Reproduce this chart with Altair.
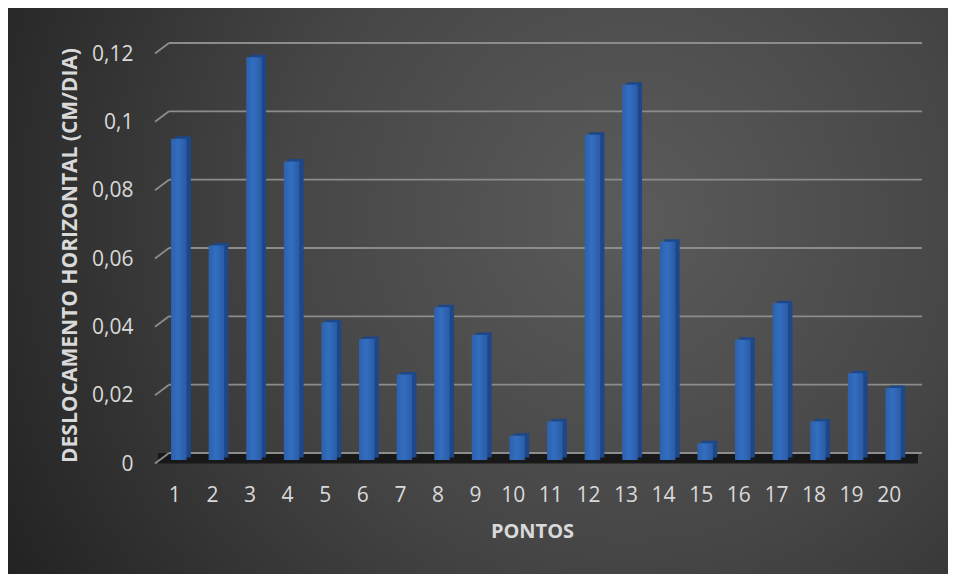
import json
import altair as alt
import pandas as pd

# ---- data ----
pontos = list(range(1, 21))
deslocamento = [0.094, 0.0628, 0.1179, 0.0874, 0.0403, 0.0354, 0.025, 0.0447, 0.0366, 0.0071,
                0.0113, 0.0952, 0.1098, 0.0639, 0.0049, 0.0352, 0.0459, 0.0113, 0.0254, 0.0211]
y_ticks = [0, 0.02, 0.04, 0.06, 0.08, 0.1, 0.12]
y_tick_labels = ["0", "0,02", "0,04", "0,06", "0,08", "0,1", "0,12"]
x_title = "PONTOS"
y_title = "DESLOCAMENTO HORIZONTAL (CM/DIA)"

W, H = 752, 410
FONT = "Open Sans"
TXT = "#d9d9d9"
GRID = "#8c8c8c"

df = pd.DataFrame({"ponto": pontos, "valor": deslocamento})
grid = pd.DataFrame({"v": y_ticks})

label_map = json.dumps({str(v): l for v, l in zip(y_ticks, y_tick_labels)})

x_scale = alt.Scale(domain=pontos, paddingInner=0, paddingOuter=0)
y_scale = alt.Scale(domain=[0, 0.12], nice=False)
y_axis = alt.Axis(
    values=y_ticks, labelExpr=f"{label_map}[toString(datum.value)]",
    labelFont=FONT, titleFont=FONT, labelColor=TXT, titleColor=TXT,
    domain=False, ticks=False, tickSize=0, grid=False, zindex=2,
    labelFontSize=21, labelPadding=23, labelOffset=4, titleFontSize=21,
    titleFontWeight="bold", titlePadding=11,
)
x_axis = alt.Axis(
    labelAngle=0, labelFont=FONT, titleFont=FONT, labelColor=TXT, titleColor=TXT,
    domain=False, ticks=False, tickSize=0, grid=False, zindex=2,
    labelFontSize=21, labelPadding=24, titleFontSize=20, titleFontWeight="bold",
    titlePadding=16,
)


def yenc(field):
    return alt.Y(field, type="quantitative", scale=y_scale, axis=y_axis, title=y_title)


bg_grad = alt.Gradient(
    gradient="radial",
    stops=[alt.GradientStop(color="#5b5b5b", offset=0),
           alt.GradientStop(color="#464646", offset=0.45),
           alt.GradientStop(color="#1f1f1f", offset=1)],
    x1=0.66, y1=0.42, r1=0, x2=0.66, y2=0.42, r2=0.8,
)

bg = alt.Chart(pd.DataFrame({"a": [0]})).mark_rect(fill=bg_grad, strokeWidth=0).encode(
    x=alt.value(-148), x2=alt.value(792), y=alt.value(-42), y2=alt.value(524)
)

floor = alt.Chart(grid).transform_filter("datum.v == 0").mark_rect(
    color="#181818", yOffset=-7, y2Offset=3.5
).encode(x=alt.value(2), x2=alt.value(762), y=yenc("v"), y2="v")

back_lines = alt.Chart(grid).mark_rule(color=GRID, strokeWidth=1.8, yOffset=-7).encode(
    x=alt.value(13), x2=alt.value(766), y=yenc("v")
)

diag = alt.Chart(grid).mark_rule(color=GRID, strokeWidth=1.8, yOffset=3.5, y2Offset=-7).encode(
    x=alt.value(-1), x2=alt.value(13), y=yenc("v"), y2="v"
)

front_grad = alt.Gradient(
    gradient="linear",
    stops=[alt.GradientStop(color="#2c61ae", offset=0),
           alt.GradientStop(color="#336ec0", offset=0.45),
           alt.GradientStop(color="#2a5ba6", offset=1)],
    x1=0, x2=1, y1=0, y2=0,
)

xenc = alt.X("ponto:O", scale=x_scale, title=x_title, axis=x_axis)

side = alt.Chart(df).mark_bar(width=15.5, xOffset=8.3, yOffset=-2.5, y2Offset=-2.5,
                              color="#1d4788").encode(x=xenc, y=yenc("valor"))
front = alt.Chart(df).mark_bar(width=15.5, xOffset=4, color=front_grad).encode(
    x=xenc, y=yenc("valor")
)

chart = alt.layer(bg, floor, back_lines, diag, side, front).properties(
    width=W, height=H, padding=0, background="white"
).configure_view(stroke=None)

chart.save("out.html", embed_options={"renderer": "svg", "actions": False})
